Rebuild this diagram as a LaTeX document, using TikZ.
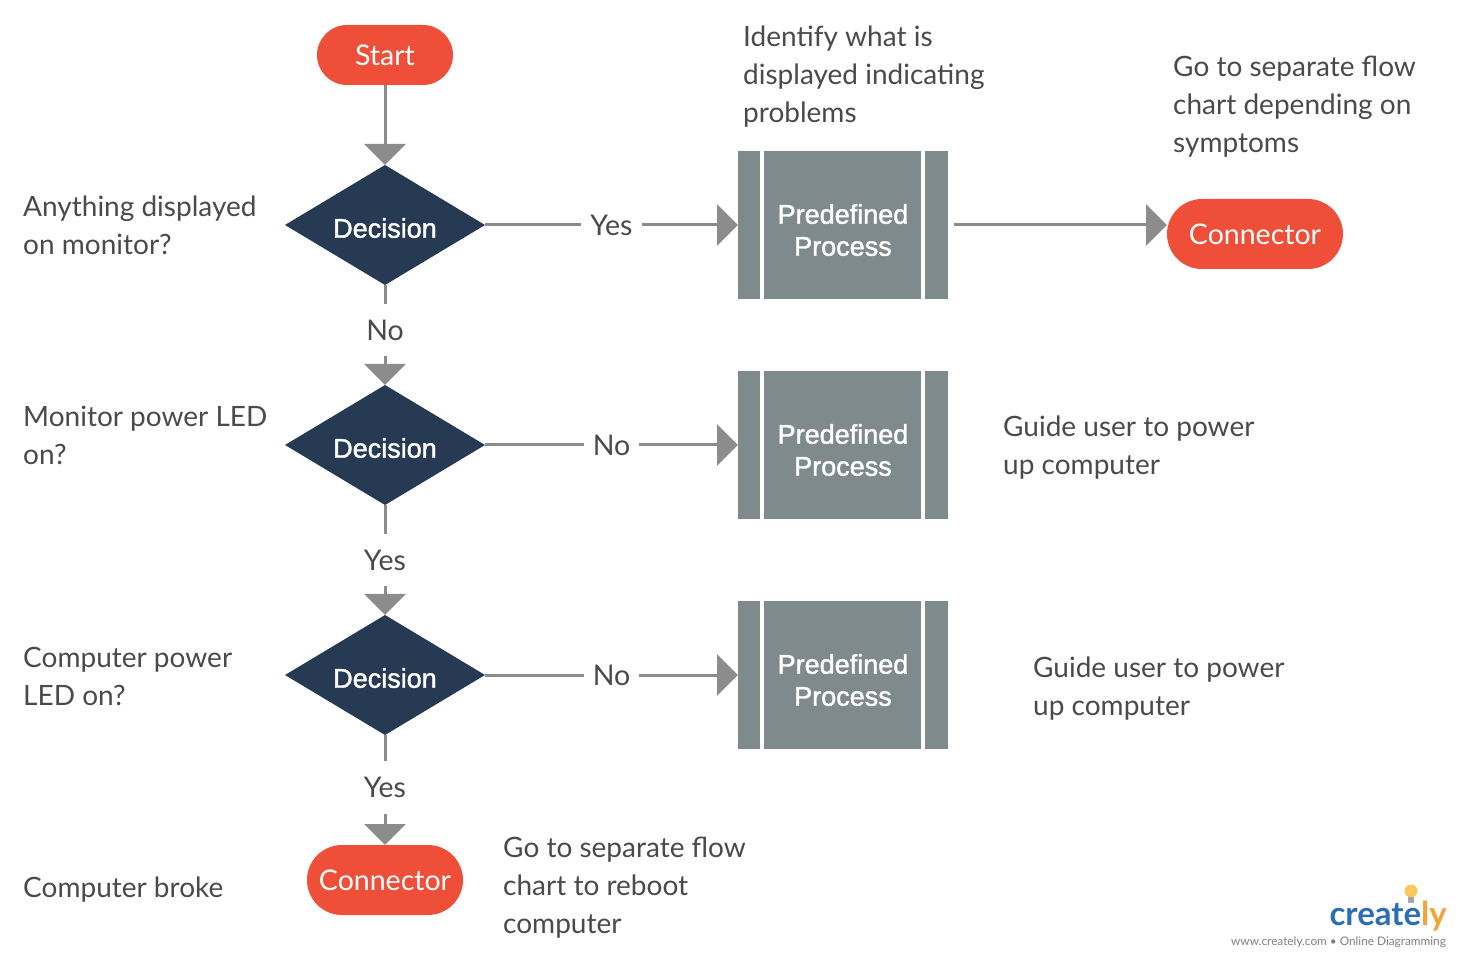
\documentclass[tikz,border=0pt]{standalone}
\usepackage{fontspec}
\setmainfont{Lato}
\newfontfamily\arialfont[FakeBold=1.5]{Liberation Sans}
\usetikzlibrary{arrows.meta,shapes.geometric}
\definecolor{decblue}{HTML}{263A53}
\definecolor{procgray}{HTML}{7E8A8C}
\definecolor{connred}{HTML}{EF4F38}
\definecolor{linegray}{HTML}{8C8C8C}
\definecolor{txtgray}{HTML}{4A4A4A}
\definecolor{logoblue}{HTML}{2C6DB5}
\definecolor{logoorange}{HTML}{F2A33A}
\definecolor{bulbyellow}{HTML}{F8C85A}
\newcommand\lblfont{\fontsize{28}{38}\selectfont}
\newcommand\ansfont{\fontsize{28.5}{38}\selectfont}
\newcommand\shapefont{\arialfont\fontsize{27}{32}\selectfont}
\tikzset{
    decision/.style={diamond, aspect=1.667, fill=decblue, minimum width=200pt, minimum height=120pt, inner sep=0pt, outer sep=0pt, text=white, font=\shapefont, text height=25.7pt},
    predef/.style={rectangle, fill=procgray, minimum width=210pt, minimum height=148pt, outer sep=0pt, text=white, font=\shapefont, align=center, text height=61.7pt,
        path picture={\draw[white, line width=4pt] ([xshift=24pt]path picture bounding box.north west) -- ([xshift=24pt]path picture bounding box.south west)
            ([xshift=-25pt]path picture bounding box.north east) -- ([xshift=-25pt]path picture bounding box.south east);}},
    connector/.style={rectangle, fill=connred, rounded corners=35pt, minimum height=70pt, outer sep=0pt, text=white, font=\ansfont},
    note/.style={anchor=base west, align=left, text=txtgray, font=\lblfont, inner sep=0pt},
    flow/.style={draw=linegray, line width=3pt, -{Triangle[width=41pt,length=21pt]}},
    answer/.style={fill=white, text=txtgray, font=\ansfont, inner xsep=9pt, inner ysep=16pt}
}
\begin{document}
\begin{tikzpicture}[x=1pt,y=-1pt]
\useasboundingbox (0,0) rectangle (1460,957);

% main column
\node[connector, minimum width=136pt, minimum height=60pt, rounded corners=30pt] (start) at (385,55) {Start};
\node[decision] (dec1) at (385,225) {Decision};
\node[decision] (dec2) at (385,445) {Decision};
\node[decision] (dec3) at (385,675) {Decision};
\node[connector, minimum width=156pt] (broke) at (385,880) {Connector};

% predefined processes
\node[predef] (pp1) at (843,225) {Predefined\\Process};
\node[predef] (pp2) at (843,445) {Predefined\\Process};
\node[predef] (pp3) at (843,675) {Predefined\\Process};
\node[connector, minimum width=176pt] (symptoms) at (1255,234) {Connector};

% notes (anchored on the last line)
\node[note] (q1) at (23,255) {Anything displayed\\on monitor?};
\node[note] (q2) at (23,465) {Monitor power LED\\on?};
\node[note] (q3) at (23,705) {Computer power\\LED on?};
\node[note] (q4) at (23,897) {Computer broke};
\node[note] (n1) at (743,123) {Identify what is\\displayed indicating\\problems};
\node[note] (n2) at (1173,153) {Go to separate flow\\chart depending on\\symptoms};
\node[note] (n3) at (1003,475) {Guide user to power\\up computer};
\node[note] (n4) at (1033,715) {Guide user to power\\up computer};
\node[note] (n5) at (503,933) {Go to separate flow\\chart to reboot\\computer};

% connectors
\draw[flow] (start) -- (dec1);
\draw[flow] (dec1) -- node[answer]{Yes} (pp1);
\draw[flow, shorten <=6pt] (pp1.east) -- (pp1.east -| symptoms.west);
\draw[flow] (dec1) -- node[answer, pos=.45]{No} (dec2);
\draw[flow] (dec2) -- node[answer]{No} (pp2);
\draw[flow] (dec2) -- node[answer]{Yes} (dec3);
\draw[flow] (dec3) -- node[answer]{No} (pp3);
\draw[flow] (dec3) -- node[answer, pos=.48]{Yes} (broke);

% logo
\node[anchor=base east, inner sep=0pt, font=\fontsize{33}{33}\selectfont\bfseries] (logo) at (1447,925) {\textcolor{logoblue}{create}\textcolor{logoorange}{ly}};
\node[anchor=base east, inner sep=0pt, text=gray, font=\fontsize{11.8}{12}\selectfont] (url) at (1446,945) {www.creately.com \textbullet{} Online Diagramming};
\fill[bulbyellow] (1411,891) circle (6.5);
\fill[gray!70] (1408,897) rectangle (1414,903);
\end{tikzpicture}
\end{document}
